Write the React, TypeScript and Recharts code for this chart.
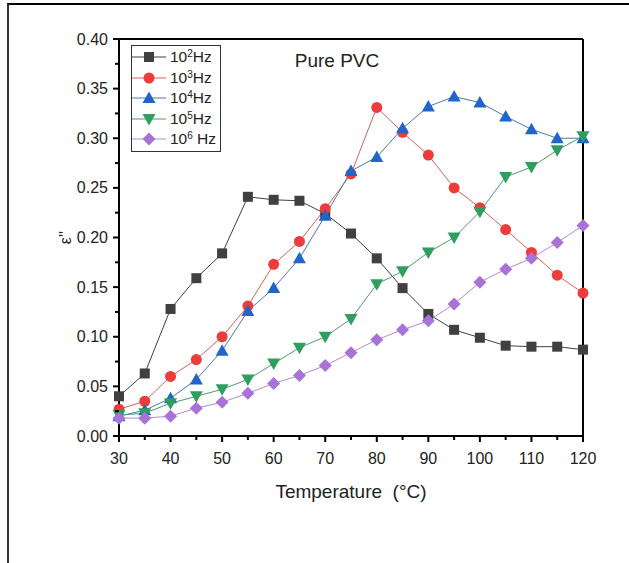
import React from 'react'
import { LineChart, Line, XAxis, YAxis, Legend, ReferenceLine } from 'recharts'

const temps = [30, 35, 40, 45, 50, 55, 60, 65, 70, 75, 80, 85, 90, 95, 100, 105, 110, 115, 120]
const hz2 = [0.040, 0.063, 0.128, 0.159, 0.184, 0.241, 0.238, 0.237, 0.224, 0.204, 0.179, 0.149, 0.123, 0.107, 0.099, 0.091, 0.090, 0.090, 0.087]
const hz3 = [0.027, 0.035, 0.060, 0.077, 0.100, 0.131, 0.173, 0.196, 0.229, 0.264, 0.331, 0.306, 0.283, 0.250, 0.230, 0.208, 0.185, 0.162, 0.144]
const hz4 = [0.020, 0.026, 0.038, 0.057, 0.086, 0.126, 0.149, 0.179, 0.222, 0.267, 0.281, 0.310, 0.332, 0.342, 0.336, 0.322, 0.309, 0.300, 0.300]
const hz5 = [0.021, 0.023, 0.033, 0.040, 0.047, 0.057, 0.073, 0.089, 0.100, 0.118, 0.153, 0.166, 0.185, 0.200, 0.226, 0.261, 0.271, 0.288, 0.302]
const hz6 = [0.018, 0.018, 0.020, 0.028, 0.034, 0.043, 0.053, 0.061, 0.071, 0.084, 0.097, 0.107, 0.116, 0.133, 0.155, 0.168, 0.179, 0.195, 0.212]

const xTicks = [30, 35, 40, 45, 50, 55, 60, 65, 70, 75, 80, 85, 90, 95, 100, 105, 110, 115, 120]
const xLabels = [30, 40, 50, 60, 70, 80, 90, 100, 110, 120]
const yTicks = [0, 0.025, 0.05, 0.075, 0.1, 0.125, 0.15, 0.175, 0.2, 0.225, 0.25, 0.275, 0.3, 0.325, 0.35, 0.375, 0.4]
const yLabels = [0, 0.05, 0.1, 0.15, 0.2, 0.25, 0.3, 0.35, 0.4]

const series = [
  { key: 'hz2', exp: '2', unit: 'Hz', color: '#404040', line: '#404040', shape: 'square' },
  { key: 'hz3', exp: '3', unit: 'Hz', color: '#ee3b3b', line: '#d9605a', shape: 'circle' },
  { key: 'hz4', exp: '4', unit: 'Hz', color: '#1f66cc', line: '#4f79aa', shape: 'triangle' },
  { key: 'hz5', exp: '5', unit: 'Hz', color: '#2f9e5f', line: '#4f9a70', shape: 'down' },
  { key: 'hz6', exp: '6', unit: ' Hz', color: '#a872d8', line: '#b08ad0', shape: 'diamond' },
]

const data = temps.map((t, i) => ({ t, hz2: hz2[i], hz3: hz3[i], hz4: hz4[i], hz5: hz5[i], hz6: hz6[i] }))

const FONT = 'Liberation Sans, Arial, sans-serif'

function Marker({ shape, color, cx, cy }: { shape: string; color: string; cx: number; cy: number }) {
  if (shape === 'square') return <rect x={cx - 5} y={cy - 5} width={10} height={10} fill={color} />
  if (shape === 'circle') return <circle cx={cx} cy={cy} r={5.5} fill={color} />
  if (shape === 'triangle') return <polygon points={`${cx},${cy - 6.5} ${cx + 6.5},${cy + 5} ${cx - 6.5},${cy + 5}`} fill={color} />
  if (shape === 'down') return <polygon points={`${cx},${cy + 6.5} ${cx + 6.5},${cy - 5} ${cx - 6.5},${cy - 5}`} fill={color} />
  return <polygon points={`${cx},${cy - 6.5} ${cx + 6.5},${cy} ${cx},${cy + 6.5} ${cx - 6.5},${cy}`} fill={color} />
}

const makeDot = (shape: string, color: string) => (props: any) => (
  <g key={`d-${props.index}`}>
    <Marker shape={shape} color={color} cx={props.cx} cy={props.cy} />
  </g>
)

const XTick = (props: any) => {
  const { x, y, payload } = props
  const major = xLabels.includes(payload.value)
  return (
    <g>
      <line x1={x} y1={y} x2={x} y2={y + (major ? 6 : 4)} stroke="#000" strokeWidth={2} />
      {major && (
        <text x={x} y={y + 28} textAnchor="middle" fontSize={16} fontFamily={FONT} fill="#222">
          {payload.value}
        </text>
      )}
    </g>
  )
}

const YTick = (props: any) => {
  const { x, y, payload } = props
  const major = yLabels.some((v) => Math.abs(v - payload.value) < 1e-9)
  return (
    <g>
      <line x1={x} y1={y} x2={x - (major ? 6 : 4)} y2={y} stroke="#000" strokeWidth={2} />
      {major && (
        <text x={x - 11} y={y + 5.5} textAnchor="end" fontSize={16} fontFamily={FONT} fill="#222">
          {payload.value.toFixed(2)}
        </text>
      )}
    </g>
  )
}

const LegendBox = () => (
  <div style={{ border: '1px solid #333', background: '#fff', padding: '1px 4px 1px 0', fontFamily: FONT, fontSize: 15.5, color: '#222' }}>
    {series.map((s) => (
      <div key={s.key} style={{ display: 'flex', alignItems: 'center', height: 20.5 }}>
        <svg width={36} height={14} style={{ marginRight: 2 }}>
          <line x1={0} y1={7} x2={34} y2={7} stroke={s.line} strokeWidth={1} />
          <Marker shape={s.shape} color={s.color} cx={17} cy={7} />
        </svg>
        <span style={{ whiteSpace: 'pre' }}>
          10<sup style={{ fontSize: 10, verticalAlign: 'top', lineHeight: '12px' }}>{s.exp}</sup>
          {s.unit}
        </span>
      </div>
    ))}
  </div>
)

export default function App() {
  return (
    <div style={{ position: 'absolute', left: 0, top: 0, width: 629, height: 563, background: '#fff' }}>
      <div style={{ position: 'absolute', left: 7, top: 3, right: 0, bottom: 0, borderTop: '2px solid #000', borderLeft: '2px solid #333' }} />
      <LineChart width={629} height={563} data={data} margin={{ top: 39, right: 46, left: 59, bottom: 97 }}>
        <XAxis
          dataKey="t"
          type="number"
          domain={[30, 120]}
          ticks={xTicks}
          interval={0}
          height={30}
          tickSize={0}
          tickMargin={0}
          tick={<XTick />}
          axisLine={{ stroke: '#000', strokeWidth: 2 }}
          label={{
            content: (p: any) => (
              <text x={p.viewBox.x + p.viewBox.width / 2} y={p.viewBox.y + 62} textAnchor="middle" fontSize={19} fontFamily={FONT} fill="#222">
                {'Temperature\u00a0 (°C)'}
              </text>
            ),
          }}
        />
        <YAxis
          type="number"
          domain={[0, 0.4]}
          ticks={yTicks}
          interval={0}
          width={60}
          tickSize={0}
          tickMargin={0}
          tick={<YTick />}
          axisLine={{ stroke: '#000', strokeWidth: 2 }}
          label={{
            content: (p: any) => (
              <text
                x={p.viewBox.x + 12}
                y={p.viewBox.y + p.viewBox.height / 2}
                transform={`rotate(-90 ${p.viewBox.x + 12} ${p.viewBox.y + p.viewBox.height / 2})`}
                textAnchor="middle"
                fontSize={16}
                fontFamily={FONT}
                fill="#222"
              >
                ε''
              </text>
            ),
          }}
        />
        <ReferenceLine y={0.4} stroke="#000" strokeWidth={2} />
        <ReferenceLine x={120} stroke="#000" strokeWidth={2} />
        {series.map((s) => (
          <Line
            key={s.key}
            dataKey={s.key}
            stroke={s.line}
            strokeWidth={1}
            dot={makeDot(s.shape, s.color)}
            activeDot={false}
            isAnimationActive={false}
          />
        ))}
        <Legend
          layout="vertical"
          align="center"
          verticalAlign="middle"
          content={<LegendBox />}
          wrapperStyle={{ left: 131, top: 45, width: 'auto' }}
        />
        <text x={337} y={67} textAnchor="middle" fontSize={19} fontFamily={FONT} fill="#222">
          Pure PVC
        </text>
      </LineChart>
    </div>
  )
}
